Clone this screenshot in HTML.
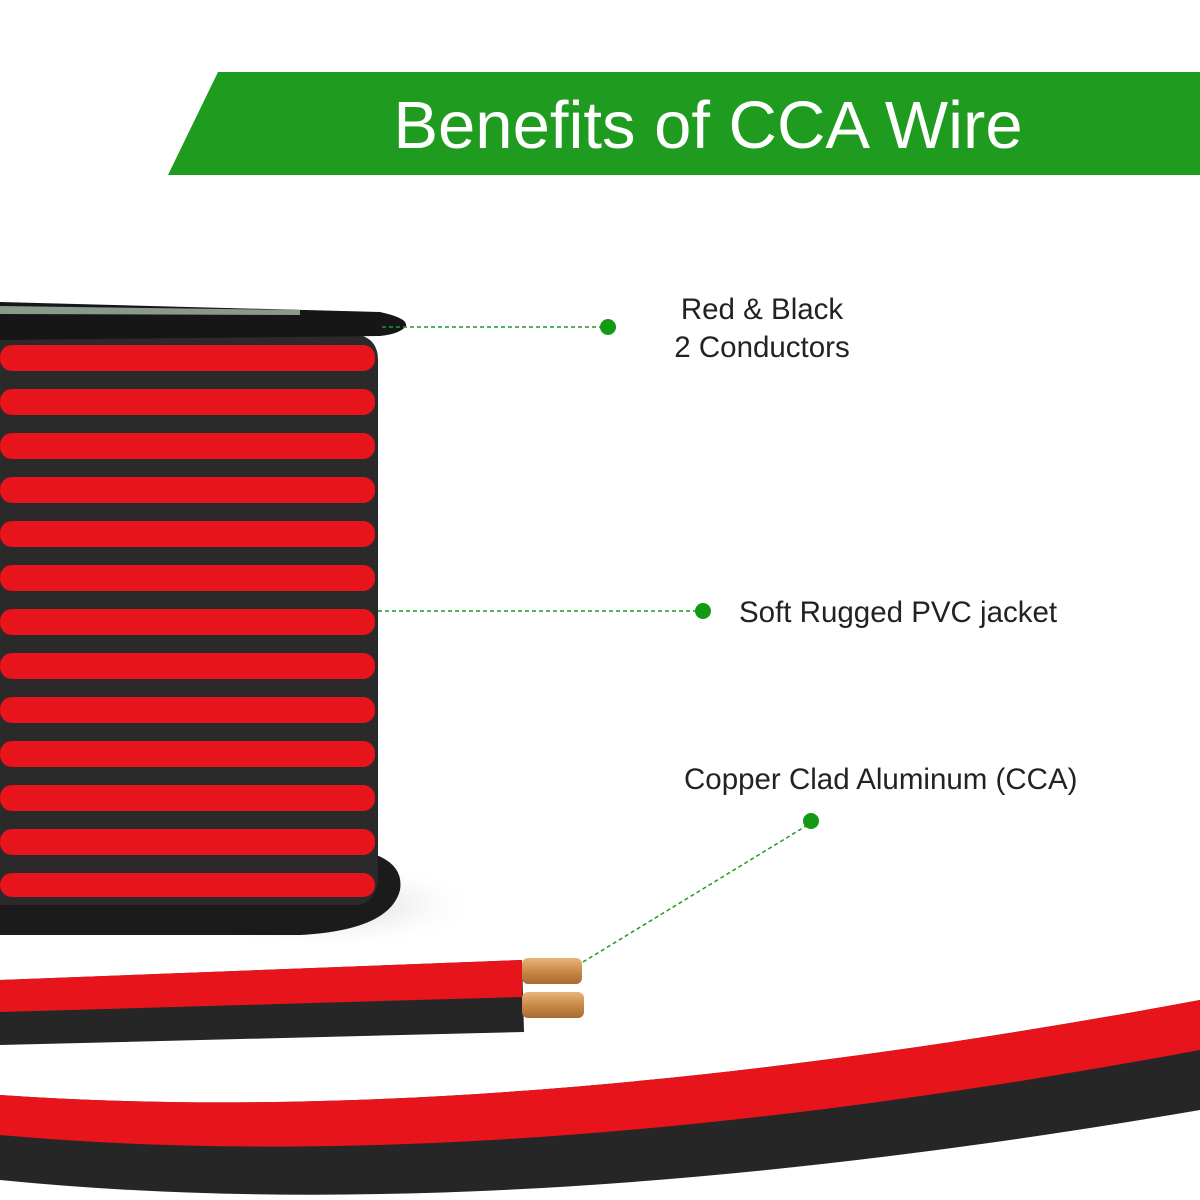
<!DOCTYPE html>
<html><head><meta charset="utf-8"><style>
html,body{margin:0;padding:0;background:#fff}
svg{display:block}
text{font-family:"Liberation Sans",sans-serif}
</style></head><body>
<svg width="1200" height="1200" viewBox="0 0 1200 1200" xmlns="http://www.w3.org/2000/svg">
<defs>
<linearGradient id="cu" x1="0" y1="0" x2="0" y2="1"><stop offset="0" stop-color="#e8b67a"/><stop offset="0.5" stop-color="#c98a4a"/><stop offset="1" stop-color="#a86a30"/></linearGradient>
<radialGradient id="sh" cx="0.5" cy="0.5" r="0.5"><stop offset="0" stop-color="#ccc"/><stop offset="1" stop-color="#fff" stop-opacity="0"/></radialGradient>
</defs>
<polygon points="218,72 1200,72 1200,175 168,175" fill="#1f9b1f"/>
<text x="708" y="148" font-size="67" fill="#fff" text-anchor="middle">Benefits of CCA Wire</text>

<ellipse cx="330" cy="905" rx="150" ry="45" fill="url(#sh)"/>
<path d="M0,850 L360,850 Q405,860 400,890 Q390,930 300,935 L0,935 Z" fill="#1b1b1b"/>
<path d="M0,335 L360,335 Q378,340 378,360 L378,880 Q376,900 360,905 L0,905 Z" fill="#2a2a2a"/>
<g fill="#e8141c">
<rect x="0" y="345" width="375" height="26" rx="12"/>
<rect x="0" y="389" width="375" height="26" rx="12"/>
<rect x="0" y="433" width="375" height="26" rx="12"/>
<rect x="0" y="477" width="375" height="26" rx="12"/>
<rect x="0" y="521" width="375" height="26" rx="12"/>
<rect x="0" y="565" width="375" height="26" rx="12"/>
<rect x="0" y="609" width="375" height="26" rx="12"/>
<rect x="0" y="653" width="375" height="26" rx="12"/>
<rect x="0" y="697" width="375" height="26" rx="12"/>
<rect x="0" y="741" width="375" height="26" rx="12"/>
<rect x="0" y="785" width="375" height="26" rx="12"/>
<rect x="0" y="829" width="375" height="26" rx="12"/>
<rect x="0" y="873" width="375" height="24" rx="12"/>
</g>
<path d="M0,302 L380,312 Q408,318 406,326 Q400,334 380,336 L0,340 Z" fill="#161616"/>
<path d="M0,306 L300,310 L300,315 L0,314 Z" fill="#8a9a8a"/>

<!-- lower wire -->
<path d="M0,980 L522,960 L524,1032 L0,1045 Z" fill="#262626"/>
<path d="M0,980 L522,960 L522,997 L0,1012 Z" fill="#e8141c"/>
<rect x="522" y="958" width="60" height="26" rx="6" fill="url(#cu)"/>
<rect x="522" y="992" width="62" height="26" rx="6" fill="url(#cu)"/>

<!-- big curve -->
<path d="M0,1095 Q500,1130 1200,1000 L1200,1110 Q500,1230 0,1180 Z" fill="#262626"/>
<path d="M0,1095 Q500,1130 1200,1000 L1200,1050 Q500,1180 0,1135 Z" fill="#e8141c"/>

<g stroke="#1a9e1a" stroke-width="1.5" stroke-dasharray="4,3" fill="none">
<line x1="382" y1="327" x2="602" y2="327"/>
<line x1="378" y1="611" x2="696" y2="611"/>
<line x1="583" y1="962" x2="806" y2="826"/>
</g>
<g fill="#129b12">
<circle cx="608" cy="327" r="8"/>
<circle cx="703" cy="611" r="8"/>
<circle cx="811" cy="821" r="8"/>
</g>
<g font-size="29.5" fill="#222">
<text x="762" y="319" text-anchor="middle">Red &amp; Black</text>
<text x="762" y="357" text-anchor="middle">2 Conductors</text>
<text x="739" y="622">Soft Rugged PVC jacket</text>
<text x="684" y="789">Copper Clad Aluminum (CCA)</text>
</g>
</svg>
</body></html>
